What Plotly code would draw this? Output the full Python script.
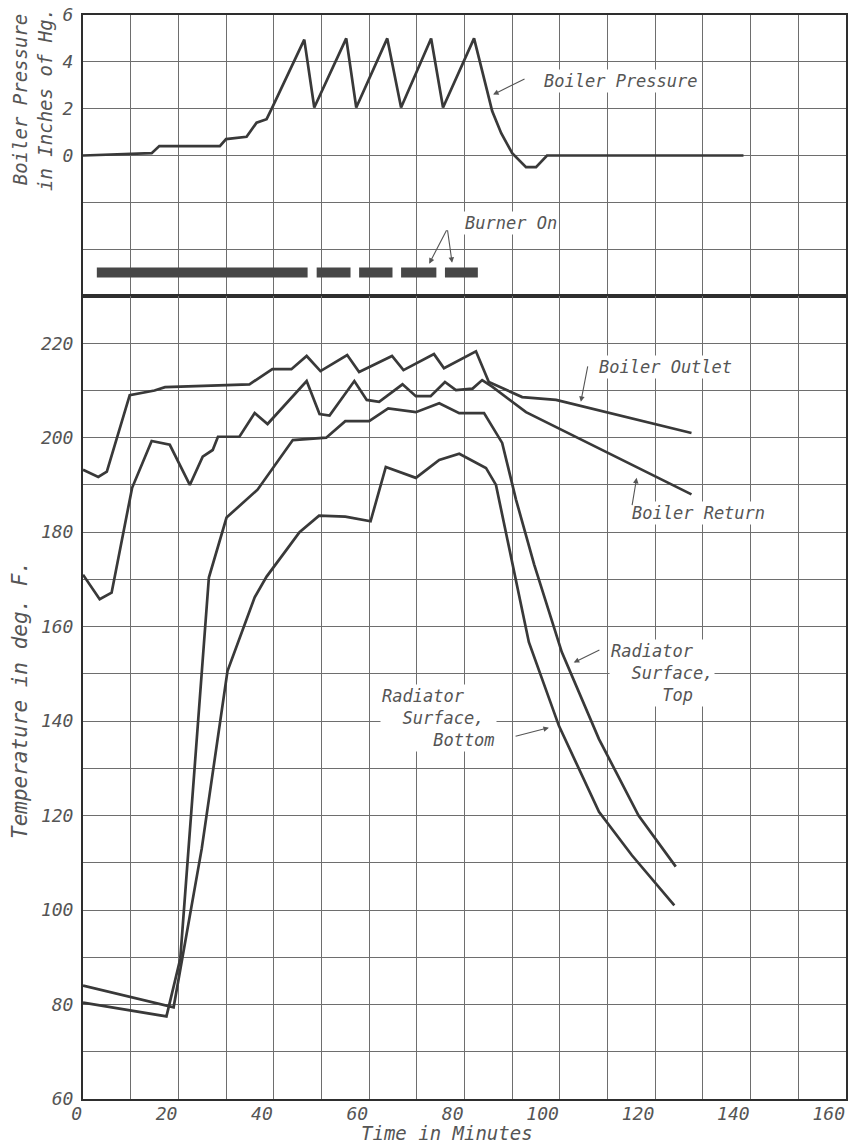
import plotly.graph_objects as go
from plotly.subplots import make_subplots

# ---- data -------------------------------------------------------------
# Boiler pressure, inches of Hg
pressure_time = [0, 14.4, 16, 28.7, 30, 34.3, 36.4, 38.5, 39.8, 46.4, 48.5, 55.2, 57.3,
                 63.8, 66.7, 73.0, 75.5, 82.0, 84.7, 85.8, 87.7, 90, 92.9, 95, 97.3, 138.5]
pressure_inhg = [0, 0.1, 0.4, 0.4, 0.7, 0.8, 1.4, 1.55, 2.1, 4.95, 2.05, 5.0, 2.05,
                 5.0, 2.05, 5.0, 2.05, 5.0, 2.8, 1.9, 0.95, 0.1, -0.5, -0.5, 0, 0]

# Burner firing periods, minutes
burner_start = [2.9, 49.0, 57.9, 66.7, 75.9]
burner_end = [47.1, 56.1, 64.9, 74.1, 82.8]

# Temperatures, deg F
outlet_time = [0, 3.2, 5, 9.8, 15, 17.2, 34.9, 39.7, 43.7, 46.9, 49.8, 55.4, 57.9, 64.8,
               67.2, 73.6, 75.7, 82.4, 85.1, 92.1, 99.2, 127.6]
outlet_temp = [193.2, 191.7, 192.8, 209, 210, 210.7, 211.3, 214.5, 214.5, 217.3, 214.1,
               217.5, 213.9, 217.3, 214.3, 217.7, 214.7, 218.3, 211.8, 208.6, 208, 201]

return_time = [0, 3.5, 6, 10.3, 14.4, 18.2, 22.4, 25.1, 27.2, 28.3, 32.8, 36, 38.7, 45.4,
               46.9, 49.6, 51.7, 56.9, 59.5, 62.1, 67.0, 69.8, 72.9, 75.9, 78.2, 81.7,
               83.7, 85.8, 92.9, 127.6]
return_temp = [171, 165.8, 167.2, 189.4, 199.3, 198.5, 190, 196, 197.4, 200.2, 200.2,
               205.2, 202.9, 210.5, 212, 205, 204.7, 212, 208, 207.6, 211.3, 208.8, 208.8,
               211.8, 210.1, 210.4, 212.2, 210.8, 205.4, 188]

rad_top_time = [0, 17.5, 20.4, 26.4, 30.1, 36.6, 44, 51, 55, 60, 64, 69.8, 74.7, 78.9,
                84.1, 87.9, 90.8, 94.6, 100.4, 108.2, 116.5, 124.3]
rad_top_temp = [80.4, 77.5, 89.7, 170.4, 183.1, 189, 199.5, 200, 203.5, 203.5, 206.2,
                205.4, 207.3, 205.2, 205.2, 198.9, 186.9, 173.2, 154.6, 136.2, 120, 109.2]

rad_bottom_time = [0, 19, 24.9, 30.3, 36, 38.5, 42.7, 45.4, 49.5, 55, 60.3, 63.5, 69.8,
                   74.7, 78.9, 84.5, 86.6, 90.4, 93.5, 99.8, 108.2, 115.1, 124]
rad_bottom_temp = [84, 79.4, 113, 150.6, 166.2, 170.6, 176.3, 180, 183.5, 183.3, 182.3,
                   193.8, 191.5, 195.3, 196.6, 193.6, 190, 171.5, 156.7, 139, 120.8,
                   111.6, 101]

time_ticks = list(range(0, 161, 10))
temp_ticks = list(range(60, 231, 10))
pressure_ticks = [-4, -2, 0, 2, 4, 6]

# ---- style ------------------------------------------------------------
INK = "#393939"
GRID = "#6e6e6e"
TEXT = "#555555"
FONT = "DejaVu Sans Mono"
BURNER_LEVEL = -5.0
NB = "\u00a0"

W, H = 849, 1143
M_L, M_R, M_T, M_B = 83, 1, 15, 44

fig = make_subplots(rows=2, cols=1, shared_xaxes=True, vertical_spacing=0,
                    row_heights=[281, 803])

line_style = dict(color=INK, width=2.7)

fig.add_trace(go.Scatter(x=pressure_time, y=pressure_inhg, mode="lines",
                         line=line_style, name="Boiler Pressure"), row=1, col=1)

bx, by = [], []
for s, e in zip(burner_start, burner_end):
    bx += [s, e, None]
    by += [BURNER_LEVEL, BURNER_LEVEL, None]
fig.add_trace(go.Scatter(x=bx, y=by, mode="lines", line=dict(color="#474747", width=10),
                         name="Burner On"), row=1, col=1)

for t, v, n in [(outlet_time, outlet_temp, "Boiler Outlet"),
                (return_time, return_temp, "Boiler Return"),
                (rad_top_time, rad_top_temp, "Radiator Surface, Top"),
                (rad_bottom_time, rad_bottom_temp, "Radiator Surface, Bottom")]:
    fig.add_trace(go.Scatter(x=t, y=v, mode="lines", line=line_style, name=n),
                  row=2, col=1)

tick_font = dict(family=FONT, size=18, color=TEXT, style="italic")
axis_common = dict(showline=True, mirror=True, linecolor="#2e2e2e", linewidth=2,
                   gridcolor=GRID, gridwidth=1, zeroline=False, ticks="",
                   tickfont=tick_font)

fig.update_xaxes(range=[0, 160], tickmode="array", tickvals=time_ticks,
                 ticktext=[str(v) if v % 20 == 0 else "" for v in time_ticks],
                 **axis_common)
fig.update_xaxes(showticklabels=False, row=1, col=1)
fig.update_xaxes(showticklabels=True, ticklabelposition="outside left",
                 ticklabelstandoff=-3, row=2, col=1)

fig.update_yaxes(range=[-6, 6], tickmode="array", tickvals=pressure_ticks,
                 ticktext=[str(v) if v >= 0 else "" for v in pressure_ticks],
                 ticklabelstandoff=4, row=1, col=1, **axis_common)
fig.update_yaxes(range=[60, 230], tickmode="array", tickvals=temp_ticks,
                 ticktext=[str(v) if v % 20 == 0 and v < 230 else "" for v in temp_ticks],
                 ticklabelstandoff=4, row=2, col=1, **axis_common)

label_font = dict(family=FONT, size=17, color=TEXT, style="italic")
arrow_style = dict(showarrow=True, arrowhead=2, arrowsize=1, arrowwidth=1.1,
                   arrowcolor="#555555", text="")

# text labels (x, y, text, row, align)
labels = [
    (112.8, 3.2, "Boiler Pressure", 1, "center"),
    (89.7, -2.9, "Burner On", 1, "center"),
    (122.2, 214.9, "Boiler Outlet", 2, "center"),
    (129.1, 184.1, "Boiler Return", 2, "center"),
    (121.5, 150.2, "Radiator<br>" + NB * 2 + "Surface,<br>" + NB * 5 + "Top", 2, "left"),
    (74.5, 140.7, "Radiator<br>" + NB * 2 + "Surface,<br>" + NB * 5 + "Bottom", 2, "left"),
]
for x, y, txt, r, al in labels:
    xr, yr = ("x", "y") if r == 1 else ("x2", "y2")
    fig.add_annotation(x=x, y=y, xref=xr, yref=yr, text=txt, showarrow=False,
                       font=label_font, bgcolor="white", borderpad=1, align=al)

# leader arrows: (tail x, tail y, head x, head y, row)
leaders = [
    (92.9, 3.3, 86.0, 2.6, 1),
    (76.4, -3.13, 72.6, -4.62, 1),
    (76.4, -3.13, 77.4, -4.58, 1),
    (105.9, 215.4, 104.4, 207.6, 2),
    (115.1, 185.4, 116.1, 191.5, 2),
    (108.6, 155.2, 102.9, 152.4, 2),
    (90.4, 136.7, 97.7, 138.6, 2),
]
for tx, ty, hx, hy, r in leaders:
    xr, yr = ("x", "y") if r == 1 else ("x2", "y2")
    fig.add_annotation(x=hx, y=hy, xref=xr, yref=yr, ax=tx, ay=ty, axref=xr, ayref=yr,
                       **arrow_style)

title_font = dict(family=FONT, size=20, color=TEXT, style="italic")
plot_h = H - M_T - M_B
fig.add_annotation(text="Temperature in deg. F.", textangle=-90, xref="paper", yref="paper",
                   x=0, xshift=-63, xanchor="center", y=(H - M_B - 700) / plot_h,
                   yanchor="middle", showarrow=False, font=dict(title_font, size=21))
fig.add_annotation(text="Boiler Pressure<br>in Inches of Hg.", textangle=-90,
                   xref="paper", yref="paper", x=0, xshift=-50, xanchor="center",
                   y=(H - M_B - 100) / plot_h, yanchor="middle", showarrow=False,
                   font=dict(title_font, size=19), align="center")
fig.add_annotation(text="Time in Minutes", xref="paper", yref="paper",
                   x=(448 - M_L) / (W - M_L - M_R), xanchor="center", y=0, yanchor="middle",
                   yshift=-34, showarrow=False, font=dict(title_font, size=19))

fig.update_layout(width=W, height=H, margin=dict(l=M_L, r=M_R, t=M_T, b=M_B),
                  paper_bgcolor="white", plot_bgcolor="white", showlegend=False)

fig.write_html("out.html")
